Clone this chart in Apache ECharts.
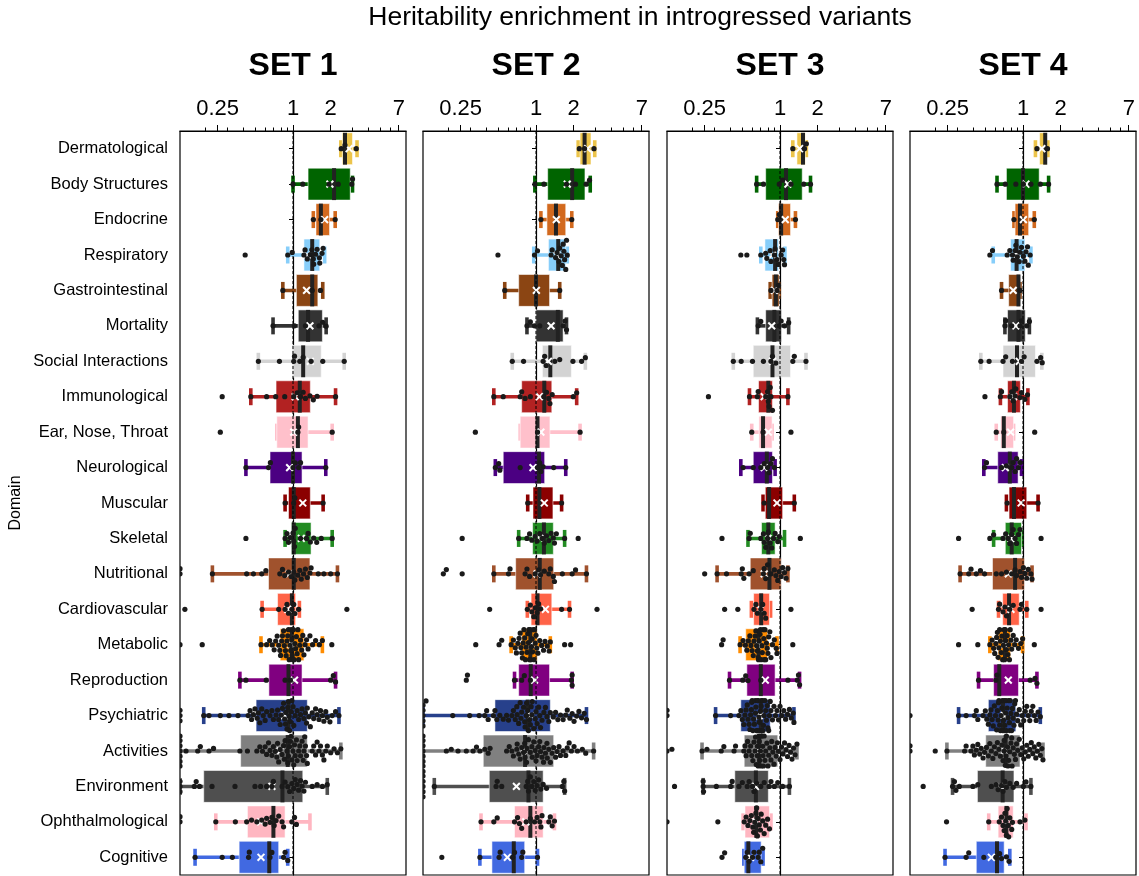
<!DOCTYPE html>
<html>
<head>
<meta charset="utf-8">
<script src="https://cdn.jsdelivr.net/npm/echarts@6/dist/echarts.min.js"></script>
<style>
  html, body { margin: 0; padding: 0; background: #fff; }
  #chart { width: 1139px; height: 876px; }
</style>
</head>
<body>
<div id="chart"></div>
<script>
// ---- data -------------------------------------------------------------
const categories = [
  'Dermatological', 'Body Structures', 'Endocrine', 'Respiratory', 'Gastrointestinal',
  'Mortality', 'Social Interactions', 'Immunological', 'Ear, Nose, Throat', 'Neurological',
  'Muscular', 'Skeletal', 'Nutritional', 'Cardiovascular', 'Metabolic', 'Reproduction',
  'Psychiatric', 'Activities', 'Environment', 'Ophthalmological', 'Cognitive'
];
const domainColors = [
  '#ecc44a', '#006400', '#d2691e', '#87cefa', '#8b4513',
  '#333333', '#d3d3d3', '#b22222', '#ffc0cb', '#4b0082',
  '#8b0000', '#228b22', '#a0522d', '#ff6347', '#ff8c00', '#800080',
  '#27408b', '#808080', '#4f4f4f', '#ffb6c1', '#4169e1'
];
const setNames = ['SET 1', 'SET 2', 'SET 3', 'SET 4'];
const majorTickLabels = [0.25, 1, 2, 7];
const minorTickValues = [0.2, 0.3, 0.4, 0.5, 0.6, 0.7, 0.8, 0.9, 3, 4, 5, 6];

// log2 enrichment. Box rows: [lower whisker, Q1, median, Q3, upper whisker, mean]
const set1Boxes = [
  [1.27, 1.31, 1.38, 1.58, 1.70, 1.49], [0.0, 0.40, 1.09, 1.52, 1.58, 0.98],
  [0.54, 0.61, 0.74, 0.97, 1.12, 0.84], [-0.14, 0.29, 0.51, 0.71, 0.84, 0.38],
  [-0.27, 0.09, 0.51, 0.66, 0.79, 0.36], [-0.53, 0.14, 0.40, 0.78, 0.88, 0.45],
  [-0.92, 0.0, 0.27, 0.75, 1.36, 0.46], [-1.12, -0.45, 0.18, 0.46, 1.13, 0.06],
  [-0.43, -0.43, 0.13, 0.40, 1.04, 0.02], [-1.25, -0.61, 0.0, 0.24, 0.87, -0.09],
  [-0.21, -0.12, 0.02, 0.46, 0.80, 0.26], [-0.21, -0.04, 0.02, 0.48, 1.04, 0.22],
  [-2.14, -0.65, 0.02, 0.45, 1.18, -0.10], [-0.82, -0.41, -0.03, 0.07, 0.17, -0.14],
  [-0.85, -0.34, -0.03, 0.29, 0.78, -0.05], [-1.41, -0.64, -0.12, 0.24, 1.13, 0.04],
  [-2.37, -0.98, -0.12, 0.38, 1.22, -0.23], [-3.0, -1.39, -0.14, 0.38, 1.27, -0.34],
  [-3.0, -2.37, -0.28, 0.26, 0.91, -0.56], [-2.05, -1.21, -0.52, -0.21, 0.45, -0.86],
  [-2.60, -1.43, -0.63, -0.38, -0.14, -0.85]
];
const set1Points = [
  [1.28, 1.38, 1.68],
  [0.0, 0.26, 0.96, 1.2, 1.56, 1.58],
  [0.54, 0.74, 1.12],
  [-1.27, -0.14, -0.02, 0.29, 0.32, 0.38, 0.46, 0.5, 0.54, 0.55, 0.6, 0.64, 0.7, 0.71, 0.77, 0.8],
  [-0.27, 0.51, 0.73],
  [-0.53, 0.04, 0.33, 0.69, 0.79, 0.88],
  [-0.92, -0.36, 0.02, 0.04, 0.18, 0.27, 0.48, 0.79, 1.36],
  [-1.88, -1.12, -0.7, -0.46, -0.22, 0.02, 0.11, 0.2, 0.27, 0.33, 0.45, 0.54, 0.64, 1.13],
  [-1.93, 0.13, 0.15, 1.04],
  [-1.25, -0.65, -0.6, 0.0, 0.06, 0.15, 0.2, 0.87],
  [-0.21, 0.02, 0.05, 0.8],
  [-1.25, -0.21, -0.16, -0.12, -0.07, 0.0, 0.02, 0.04, 0.06, 0.2, 0.36, 0.4, 0.46, 0.55, 0.63, 0.75, 1.04],
  [-3.0, -3.0, -2.14, -1.23, -1.05, -0.83, -0.72, -0.35, -0.28, -0.22, -0.12, -0.05, 0.02, 0.05, 0.13, 0.18, 0.22, 0.28, 0.33, 0.38, 0.45, 0.48, 0.67, 0.82, 1.0, 1.18],
  [-2.87, -0.82, -0.38, -0.21, -0.16, -0.12, -0.03, 0.02, 0.05, 0.15, 1.43],
  [-3.0, -2.41, -0.85, -0.7, -0.62, -0.55, -0.5, -0.46, -0.42, -0.38, -0.35, -0.33, -0.3, -0.28, -0.25, -0.23, -0.2, -0.18, -0.16, -0.14, -0.12, -0.1, -0.08, -0.06, -0.05, -0.03, -0.02, 0.0, 0.01, 0.03, 0.05, 0.07, 0.09, 0.11, 0.13, 0.15, 0.18, 0.2, 0.23, 0.26, 0.29, 0.32, 0.36, 0.4, 0.45, 0.52, 0.6, 0.7, 0.78, 1.03],
  [-1.41, -1.25, -0.71, -0.21, -0.07, 1.0, 1.07, 1.13],
  [-3.0, -3.0, -3.0, -2.37, -2.23, -1.93, -1.7, -1.46, -1.19, -1.14, -1.1, -1.05, -1.01, -0.95, -0.92, -0.88, -0.83, -0.79, -0.74, -0.7, -0.61, -0.56, -0.52, -0.45, -0.41, -0.38, -0.34, -0.31, -0.28, -0.25, -0.22, -0.2, -0.19, -0.16, -0.14, -0.12, -0.1, -0.09, -0.07, -0.05, -0.03, 0.0, 0.02, 0.06, 0.11, 0.15, 0.2, 0.24, 0.29, 0.33, 0.36, 0.38, 0.42, 0.46, 0.51, 0.55, 0.6, 0.64, 0.69, 0.73, 0.78, 0.82, 0.87, 0.91, 0.98, 1.04, 1.13, 1.22],
  [-3.0, -3.0, -3.0, -3.0, -3.0, -3.0, -3.0, -2.84, -2.53, -2.46, -2.23, -2.11, -1.41, -1.21, -0.96, -0.88, -0.81, -0.74, -0.7, -0.65, -0.61, -0.56, -0.52, -0.47, -0.43, -0.41, -0.38, -0.34, -0.29, -0.25, -0.23, -0.21, -0.16, -0.14, -0.12, -0.09, -0.07, -0.05, -0.03, 0.0, 0.02, 0.04, 0.06, 0.09, 0.11, 0.15, 0.18, 0.2, 0.24, 0.27, 0.29, 0.31, 0.33, 0.36, 0.38, 0.51, 0.55, 0.6, 0.64, 0.69, 0.73, 0.78, 0.82, 0.87, 0.91, 1.0, 1.09, 1.18, 1.27],
  [-3.0, -3.0, -3.0, -2.62, -2.57, -2.48, -2.15, -1.54, -1.01, -0.86, -0.7, -0.56, -0.52, -0.29, -0.21, -0.14, -0.09, -0.03, 0.02, 0.06, 0.11, 0.15, 0.2, 0.24, 0.29, 0.33, 0.51, 0.64, 0.78, 0.91],
  [-3.0, -3.0, -2.05, -1.53, -1.23, -1.1, -0.96, -0.83, -0.74, -0.7, -0.61, -0.56, -0.5, -0.45, -0.38, -0.29, -0.25, -0.03, 0.04, 0.09],
  [-2.6, -1.88, -1.61, -1.18, -1.16, -0.61, -0.56, -0.25, -0.21, -0.14]
];

const set2Boxes = [
  [1.12, 1.17, 1.29, 1.46, 1.56, 1.37], [-0.03, 0.31, 0.96, 1.30, 1.44, 0.83],
  [0.13, 0.29, 0.53, 0.79, 0.95, 0.54], [-0.06, 0.33, 0.59, 0.79, 0.83, 0.55],
  [-0.83, -0.46, 0.0, 0.36, 0.63, 0.01], [-0.24, 0.0, 0.58, 0.72, 0.81, 0.40],
  [-0.63, 0.17, 0.38, 0.94, 1.31, 0.33], [-1.12, -0.38, 0.22, 0.42, 1.08, 0.09],
  [-0.42, -0.42, 0.04, 0.37, 1.17, 0.13], [-1.08, -0.87, 0.08, 0.23, 0.79, -0.08],
  [-0.22, -0.08, 0.09, 0.45, 0.68, 0.22], [-0.46, -0.09, 0.21, 0.46, 0.76, 0.10],
  [-1.12, -0.54, 0.10, 0.47, 1.34, 0.03], [-0.23, -0.13, 0.04, 0.42, 0.89, 0.25],
  [-0.66, -0.38, -0.15, 0.03, 0.38, -0.12], [-0.57, -0.46, -0.14, 0.36, 0.96, -0.04],
  [-3.0, -1.09, -0.22, 0.38, 1.34, -0.12], [-3.0, -1.40, -0.29, 0.47, 1.53, -0.35],
  [-2.70, -1.24, -0.20, 0.19, 0.76, -0.52], [-1.46, -0.57, -0.15, 0.19, 0.49, -0.27],
  [-1.49, -1.17, -0.59, -0.30, 0.04, -0.76]
];
const set2Points = [
  [1.15, 1.29, 1.54],
  [-0.03, 0.21, 0.81, 1.05, 1.33, 1.42],
  [0.13, 0.95],
  [-1.01, -0.04, 0.04, 0.4, 0.43, 0.52, 0.56, 0.61, 0.63, 0.67, 0.7, 0.72, 0.74, 0.76, 0.79, 0.81, 0.83],
  [-0.83, 0.63],
  [-0.24, -0.15, -0.04, 0.1, 0.72, 0.77, 0.81],
  [-0.63, -0.33, 0.19, 0.23, 0.27, 0.5, 0.63, 0.98, 1.21, 1.31],
  [-1.12, -0.87, -0.42, -0.38, -0.29, -0.15, 0.21, 0.28, 0.34, 0.37, 0.43, 0.99, 1.08],
  [-1.61, 0.04, 1.17],
  [-1.08, -0.99, -0.96, -0.42, 0.04, 0.1, 0.13, 0.19, 0.47, 0.79],
  [-0.22, 0.68],
  [-1.96, -0.46, -0.24, -0.17, -0.11, -0.02, 0.03, 0.1, 0.16, 0.22, 0.28, 0.34, 0.4, 0.46, 0.49, 0.54, 0.76, 1.12],
  [-2.46, -2.38, -1.96, -1.12, -0.73, -0.69, -0.29, -0.24, -0.17, -0.02, 0.07, 0.12, 0.22, 0.34, 0.38, 0.46, 0.49, 0.7, 0.96, 1.05, 1.34],
  [-1.23, -0.23, -0.15, -0.11, -0.06, -0.02, 0.03, 0.07, 0.12, 0.68, 0.89, 1.62],
  [-1.6, -0.98, -0.91, -0.66, -0.6, -0.55, -0.52, -0.48, -0.45, -0.42, -0.4, -0.38, -0.36, -0.34, -0.32, -0.3, -0.28, -0.26, -0.24, -0.22, -0.2, -0.19, -0.17, -0.15, -0.14, -0.12, -0.1, -0.09, -0.07, -0.05, -0.04, -0.02, 0.0, 0.02, 0.05, 0.1, 0.15, 0.2, 0.24, 0.3, 0.35, 0.38, 0.76, 0.92],
  [-1.85, -1.82, -0.57, -0.38, -0.31, -0.15, 0.94, 0.96, 0.96],
  [-3.0, -3.0, -3.0, -3.0, -3.0, -2.92, -2.21, -1.76, -1.51, -1.36, -1.31, -1.27, -1.13, -1.09, -1.04, -0.96, -0.87, -0.78, -0.73, -0.64, -0.6, -0.55, -0.51, -0.5, -0.46, -0.42, -0.4, -0.38, -0.33, -0.3, -0.29, -0.26, -0.25, -0.22, -0.2, -0.17, -0.15, -0.13, -0.11, -0.1, -0.06, -0.02, 0.0, 0.03, 0.07, 0.1, 0.12, 0.16, 0.21, 0.25, 0.29, 0.34, 0.38, 0.46, 0.52, 0.58, 0.65, 0.72, 0.79, 0.83, 0.9, 0.96, 1.01, 1.08, 1.14, 1.21, 1.28, 1.34],
  [-3.0, -3.0, -3.0, -3.0, -3.0, -3.0, -3.0, -2.38, -2.25, -2.07, -1.85, -1.67, -1.58, -1.49, -1.36, -1.27, -1.22, -0.78, -0.71, -0.64, -0.6, -0.51, -0.5, -0.46, -0.42, -0.38, -0.33, -0.3, -0.29, -0.25, -0.24, -0.2, -0.15, -0.11, -0.1, -0.06, -0.02, 0.0, 0.03, 0.07, 0.1, 0.12, 0.16, 0.2, 0.21, 0.25, 0.29, 0.3, 0.34, 0.38, 0.43, 0.47, 0.52, 0.56, 0.61, 0.65, 0.72, 0.79, 0.83, 0.88, 0.94, 1.01, 1.1, 1.23, 1.32, 1.53],
  [-3.0, -3.0, -3.0, -3.0, -3.0, -3.0, -2.7, -1.06, -1.03, -0.91, -0.26, -0.22, -0.2, -0.15, -0.11, -0.06, -0.02, 0.03, 0.07, 0.13, 0.19, 0.28, 0.7, 0.74, 0.76],
  [-1.46, -1.12, -1.03, -0.57, -0.49, -0.44, -0.38, -0.26, -0.15, -0.04, 0.03, 0.1, 0.13, 0.16, 0.34, 0.38, 0.43, 0.49],
  [-2.5, -1.49, -0.98, -0.95, -0.62, -0.57, -0.38, -0.35, 0.04]
];

const set3Boxes = [
  [0.34, 0.45, 0.61, 0.67, 0.70, 0.52], [-0.62, -0.38, 0.16, 0.59, 0.81, 0.21],
  [-0.06, -0.04, 0.03, 0.28, 0.41, 0.14], [-0.51, -0.40, -0.13, -0.04, 0.13, -0.20],
  [-0.26, -0.21, -0.11, -0.02, -0.02, -0.15], [-0.60, -0.38, -0.15, 0.04, 0.23, -0.22],
  [-1.24, -0.71, -0.20, 0.28, 0.69, -0.20], [-0.81, -0.57, -0.31, -0.20, 0.21, -0.42],
  [-0.75, -0.56, -0.45, -0.21, -0.21, -0.31], [-1.04, -0.71, -0.35, -0.20, -0.13, -0.42],
  [-0.45, -0.39, -0.29, 0.07, 0.38, -0.08], [-0.85, -0.49, -0.31, -0.13, 0.12, -0.32],
  [-1.67, -0.79, -0.28, 0.03, 0.21, -0.42], [-0.76, -0.70, -0.50, -0.28, -0.25, -0.52],
  [-1.06, -0.91, -0.57, -0.33, -0.08, -0.58], [-1.34, -0.88, -0.51, -0.13, 0.52, -0.39],
  [-1.71, -1.04, -0.51, -0.26, 0.37, -0.55], [-2.07, -0.95, -0.55, -0.06, 0.45, -0.55],
  [-2.04, -1.20, -0.64, -0.31, 0.25, -0.65], [-0.98, -0.93, -0.63, -0.28, -0.24, -0.64],
  [-0.96, -0.95, -0.84, -0.50, -0.45, -0.78]
];
const set3Points = [
  [0.34, 0.65, 0.7],
  [-0.62, -0.44, -0.02, 0.07, 0.29, 0.63, 0.81],
  [-0.06, -0.02, 0.41],
  [-1.04, -0.88, -0.51, -0.38, -0.35, -0.26, -0.24, -0.15, -0.13, -0.08, -0.04, 0.03, 0.07, 0.1, 0.12],
  [-0.24, -0.08, -0.04],
  [-0.58, -0.51, -0.02, 0.03, 0.12, 0.23],
  [-1.24, -1.03, -0.73, -0.44, -0.24, -0.2, -0.11, 0.34, 0.38, 0.69],
  [-1.9, -0.81, -0.6, -0.58, -0.38, -0.33, -0.31, -0.29, -0.26, -0.24, -0.2, 0.21],
  [-0.75, -0.45, 0.29],
  [-0.98, -0.71, -0.51, -0.42, -0.33, -0.29, -0.24, -0.2, -0.15],
  [-0.42, 0.38],
  [-1.54, -0.82, -0.79, -0.51, -0.44, -0.42, -0.38, -0.33, -0.31, -0.26, -0.22, -0.17, -0.13, -0.06, -0.02, 0.54],
  [-2.0, -1.67, -1.42, -1.03, -1.0, -0.96, -0.82, -0.71, -0.44, -0.42, -0.38, -0.33, -0.24, -0.15, -0.11, -0.06, -0.02, 0.03, 0.07, 0.12, 0.16, 0.21],
  [-1.47, -1.12, -0.69, -0.64, -0.6, -0.51, -0.46, -0.42, -0.38, 0.29],
  [-1.55, -1.51, -1.06, -0.98, -0.92, -0.88, -0.84, -0.8, -0.77, -0.74, -0.71, -0.69, -0.66, -0.64, -0.62, -0.6, -0.58, -0.57, -0.55, -0.53, -0.52, -0.5, -0.48, -0.47, -0.45, -0.43, -0.42, -0.4, -0.38, -0.36, -0.34, -0.32, -0.3, -0.27, -0.24, -0.2, -0.15, -0.1, -0.08, 0.34],
  [-1.34, -0.99, -0.91, -0.85, -0.51, 0.21, 0.46, 0.49, 0.52],
  [-3.0, -3.0, -1.71, -1.31, -1.09, -1.04, -1.0, -0.96, -0.93, -0.9, -0.87, -0.85, -0.82, -0.8, -0.78, -0.76, -0.75, -0.74, -0.72, -0.7, -0.68, -0.66, -0.65, -0.64, -0.62, -0.6, -0.6, -0.58, -0.56, -0.55, -0.54, -0.52, -0.5, -0.5, -0.48, -0.46, -0.45, -0.44, -0.42, -0.4, -0.38, -0.36, -0.34, -0.32, -0.3, -0.28, -0.26, -0.24, -0.2, -0.16, -0.12, -0.08, -0.04, 0.0, 0.05, 0.1, 0.15, 0.2, 0.25, 0.3, 0.35, 0.37],
  [-3.0, -2.87, -2.07, -1.94, -1.56, -1.49, -1.22, -1.18, -0.96, -0.93, -0.9, -0.86, -0.82, -0.78, -0.75, -0.72, -0.69, -0.66, -0.65, -0.63, -0.6, -0.6, -0.58, -0.56, -0.55, -0.54, -0.52, -0.5, -0.5, -0.48, -0.46, -0.45, -0.44, -0.42, -0.4, -0.38, -0.35, -0.32, -0.3, -0.27, -0.24, -0.22, -0.19, -0.16, -0.13, -0.1, -0.07, -0.04, 0.0, 0.04, 0.08, 0.12, 0.16, 0.2, 0.24, 0.28, 0.32, 0.36, 0.4, 0.45],
  [-2.8, -2.04, -2.04, -2.03, -1.69, -1.31, -1.27, -1.09, -1.0, -0.87, -0.82, -0.73, -0.69, -0.62, -0.51, -0.42, -0.29, -0.24, -0.15, -0.06, 0.07, 0.25],
  [-3.0, -1.65, -0.95, -0.9, -0.85, -0.8, -0.76, -0.72, -0.7, -0.67, -0.64, -0.62, -0.6, -0.58, -0.55, -0.52, -0.5, -0.46, -0.42, -0.38, -0.33, -0.28],
  [-1.54, -1.47, -0.91, -0.87, -0.82, -0.73, -0.69, -0.58, -0.55, -0.51, -0.46]
];

const set4Boxes = [
  [0.33, 0.44, 0.59, 0.63, 0.66, 0.50], [-0.69, -0.44, 0.0, 0.43, 0.68, 0.08],
  [-0.24, -0.21, -0.08, 0.15, 0.30, 0.01], [-0.79, -0.33, -0.17, 0.05, 0.21, -0.15],
  [-0.57, -0.38, -0.12, -0.08, -0.08, -0.26], [-0.48, -0.41, -0.12, 0.06, 0.17, -0.19],
  [-1.12, -0.53, -0.16, 0.33, 0.50, -0.10], [-0.60, -0.41, -0.24, -0.07, 0.13, -0.25],
  [-0.71, -0.59, -0.51, -0.25, -0.25, -0.33], [-1.04, -0.67, -0.35, -0.13, -0.04, -0.47],
  [-0.44, -0.37, -0.24, 0.10, 0.40, -0.05], [-0.78, -0.47, -0.30, -0.04, -0.04, -0.32],
  [-1.67, -0.81, -0.21, 0.04, 0.24, -0.39], [-0.65, -0.54, -0.37, -0.10, 0.10, -0.32],
  [-0.88, -0.66, -0.48, -0.33, -0.01, -0.50], [-1.18, -0.78, -0.63, -0.12, 0.37, -0.39],
  [-1.71, -0.92, -0.53, -0.19, 0.46, -0.50], [-2.02, -0.99, -0.46, -0.08, 0.53, -0.50],
  [-1.87, -1.21, -0.54, -0.24, 0.21, -0.60], [-0.91, -0.66, -0.44, -0.26, 0.08, -0.45],
  [-2.07, -1.24, -0.69, -0.50, -0.35, -0.84]
];
const set4Points = [
  [0.37, 0.65],
  [-0.69, -0.47, -0.19, 0.01, 0.21, 0.46, 0.68],
  [-0.24, 0.3],
  [-0.88, -0.81, -0.42, -0.35, -0.28, -0.26, -0.21, -0.19, -0.15, -0.1, -0.08, -0.04, 0.01, 0.05, 0.08, 0.12, 0.14, 0.19],
  [-0.57, -0.08],
  [-0.48, -0.46, -0.3, -0.08, -0.04, 0.1, 0.17],
  [-1.12, -0.9, -0.53, -0.46, -0.28, -0.04, 0.03, 0.37, 0.47, 0.51],
  [-1.01, -0.6, -0.57, -0.35, -0.3, -0.26, -0.21, -0.19, -0.08, -0.04, 0.05, 0.12],
  [-0.71, -0.51, 0.31],
  [-1.02, -0.97, -0.57, -0.44, -0.3, -0.26, -0.21, -0.17, -0.12, -0.08],
  [-0.42, 0.4],
  [-1.71, -0.88, -0.78, -0.53, -0.46, -0.39, -0.35, -0.3, -0.26, -0.21, -0.17, -0.12, -0.08, 0.48],
  [-1.67, -1.44, -1.38, -1.24, -1.13, -1.02, -0.71, -0.57, -0.44, -0.3, -0.21, -0.17, -0.08, -0.04, 0.01, 0.05, 0.1, 0.14, 0.21, 0.24],
  [-1.35, -0.65, -0.62, -0.53, -0.48, -0.44, -0.35, -0.26, -0.08, -0.04, 0.1, 0.48],
  [-1.71, -1.2, -0.88, -0.82, -0.78, -0.75, -0.72, -0.7, -0.68, -0.66, -0.64, -0.62, -0.6, -0.58, -0.56, -0.54, -0.52, -0.5, -0.49, -0.47, -0.46, -0.44, -0.42, -0.4, -0.38, -0.36, -0.34, -0.32, -0.3, -0.26, -0.22, -0.18, -0.12, -0.06, -0.01, 0.3],
  [-1.18, -0.72, -0.69, 0.19, 0.32, 0.37],
  [-3.0, -1.71, -1.51, -1.29, -1.24, -1.2, -1.06, -1.0, -0.96, -0.92, -0.88, -0.85, -0.82, -0.79, -0.76, -0.73, -0.7, -0.68, -0.66, -0.65, -0.64, -0.62, -0.6, -0.58, -0.56, -0.55, -0.54, -0.52, -0.5, -0.5, -0.48, -0.46, -0.45, -0.44, -0.42, -0.4, -0.38, -0.36, -0.35, -0.34, -0.32, -0.3, -0.28, -0.26, -0.24, -0.22, -0.2, -0.17, -0.14, -0.1, -0.06, -0.02, 0.02, 0.06, 0.1, 0.14, 0.18, 0.22, 0.26, 0.3, 0.35, 0.4, 0.46],
  [-3.0, -3.0, -2.33, -2.02, -1.55, -1.51, -1.38, -1.33, -1.29, -1.24, -1.2, -1.15, -1.11, -1.06, -1.02, -0.97, -0.92, -0.88, -0.84, -0.8, -0.76, -0.72, -0.68, -0.64, -0.6, -0.56, -0.53, -0.5, -0.5, -0.47, -0.45, -0.44, -0.41, -0.4, -0.38, -0.35, -0.32, -0.3, -0.29, -0.26, -0.23, -0.2, -0.17, -0.14, -0.1, -0.06, -0.02, 0.02, 0.06, 0.1, 0.14, 0.18, 0.22, 0.26, 0.3, 0.34, 0.38, 0.42, 0.46, 0.5, 0.53],
  [-2.65, -1.87, -1.82, -1.78, -1.69, -1.33, -1.2, -0.84, -0.71, -0.66, -0.57, -0.53, -0.48, -0.44, -0.35, -0.26, -0.17, 0.01, 0.08, 0.21],
  [-2.03, -0.91, -0.63, -0.57, -0.53, -0.5, -0.48, -0.46, -0.44, -0.42, -0.39, -0.38, -0.35, -0.3, -0.28, -0.08, 0.05],
  [-2.07, -1.51, -1.44, -1.04, -0.72, -0.62, -0.57, -0.44, -0.37]
];

const setBoxes = [set1Boxes, set2Boxes, set3Boxes, set4Boxes];
const setPoints = [set1Points, set2Points, set3Points, set4Points];

// ---- layout -----------------------------------------------------------
const FONT = '"Liberation Sans", Arial, sans-serif';
const gridLeft = [180, 423, 667, 910];
const gridWidth = 226;
const gridTop = 131;
const gridHeight = 744;
const xMin = -3, xMax = 3;          // log2 range: 0.125 .. 8
const dotDiameter = 5.2;
const swarmHalfWidth = 15;

// Beeswarm offsets (px) for one category: each point takes the
// nearest free slot to the centre line without overlapping others.
function swarmOffsets(values, pxPerUnit) {
  const order = values.map((v, i) => i).sort((a, b) => values[a] - values[b]);
  const placed = [];
  const out = new Array(values.length);
  const d2 = dotDiameter * dotDiameter;
  for (const i of order) {
    const x = values[i] * pxPerUnit;
    const near = placed.filter(p => Math.abs(p.x - x) < dotDiameter);
    const cands = [0];
    near.forEach(p => {
      const dy = Math.sqrt(Math.max(0, d2 - (p.x - x) * (p.x - x)));
      cands.push(p.y + dy, p.y - dy);
    });
    cands.sort((a, b) => Math.abs(a) - Math.abs(b) || a - b);
    let y = null;
    for (const c of cands) {
      if (near.every(p => (p.x - x) ** 2 + (p.y - c) ** 2 >= d2 - 1e-6)) { y = c; break; }
    }
    if (y === null) y = 0;
    if (Math.abs(y) > swarmHalfWidth) y = Math.sign(y) * swarmHalfWidth;
    placed.push({ x, y });
    out[i] = y;
  }
  return out;
}

function renderBox(params, api) {
  const cat = api.value(0);
  const pt = k => api.coord([api.value(k), cat]);
  const lo = pt(1), q1 = pt(2), md = pt(3), q3 = pt(4), hi = pt(5), mn = pt(6);
  const band = api.size([0, 1])[1];
  const cy = lo[1];
  const boxH = band * 0.9, capH = band * 0.48, lw = 3.6, capW = 3.6;
  const color = domainColors[cat];
  const m = 3.4;
  return {
    type: 'group',
    children: [
      { type: 'line', shape: { x1: lo[0], y1: cy, x2: hi[0], y2: cy }, style: { stroke: color, lineWidth: lw } },
      { type: 'rect', shape: { x: lo[0] - capW / 2, y: cy - capH / 2, width: capW, height: capH }, style: { fill: color } },
      { type: 'rect', shape: { x: hi[0] - capW / 2, y: cy - capH / 2, width: capW, height: capH }, style: { fill: color } },
      { type: 'rect', shape: { x: q1[0], y: cy - boxH / 2, width: q3[0] - q1[0], height: boxH },
        style: { fill: color, stroke: 'rgba(255,255,255,0.55)', lineWidth: 1 } },
      { type: 'rect', shape: { x: md[0] - 2, y: cy - boxH / 2, width: 4, height: boxH }, style: { fill: '#222222' } },
      { type: 'line', shape: { x1: mn[0] - m, y1: cy - m, x2: mn[0] + m, y2: cy + m }, style: { stroke: '#ffffff', lineWidth: 2 } },
      { type: 'line', shape: { x1: mn[0] - m, y1: cy + m, x2: mn[0] + m, y2: cy - m }, style: { stroke: '#ffffff', lineWidth: 2 } }
    ]
  };
}

function renderDot(params, api) {
  const c = api.coord([api.value(0), api.value(1)]);
  return {
    type: 'circle',
    shape: { cx: c[0], cy: c[1] + api.value(2), r: dotDiameter / 2 },
    style: { fill: '#1a1a1a' }
  };
}

function renderRefLine(params, api) {
  const cs = params.coordSys;
  const x = api.coord([api.value(0), 0])[0];
  return {
    type: 'line',
    shape: { x1: x, y1: cs.y, x2: x, y2: cs.y + cs.height },
    style: { stroke: '#000', lineWidth: 1, lineDash: [3, 2] }
  };
}

const fmtTick = v => {
  const raw = Math.pow(2, v);
  return String(Math.round(raw * 100) / 100);
};

const grids = [], xAxes = [], yAxes = [], series = [], graphics = [];
const pxPerUnit = gridWidth / (xMax - xMin);

setNames.forEach((name, g) => {
  grids.push({ left: gridLeft[g], top: gridTop, width: gridWidth, height: gridHeight,
    show: true, borderColor: '#000', borderWidth: 1.2, backgroundColor: 'transparent' });

  xAxes.push({
    gridIndex: g, type: 'value', position: 'top', min: xMin, max: xMax,
    axisLine: { show: true, lineStyle: { color: '#000', width: 1.2 } },
    axisTick: { show: true, length: 6, customValues: majorTickLabels.map(Math.log2), lineStyle: { color: '#000', width: 1 } },
    axisLabel: { show: true, customValues: majorTickLabels.map(Math.log2), formatter: fmtTick,
      fontSize: 22, color: '#000', fontFamily: FONT, margin: 11 },
    splitLine: { show: false }
  });
  xAxes.push({
    gridIndex: g, type: 'value', position: 'top', min: xMin, max: xMax,
    axisLine: { show: false },
    axisTick: { show: true, length: 3.5, customValues: minorTickValues.map(Math.log2), lineStyle: { color: '#000', width: 1 } },
    axisLabel: { show: false },
    splitLine: { show: false }
  });
  yAxes.push({
    gridIndex: g, type: 'category', data: categories, inverse: true,
    axisLine: { show: true, lineStyle: { color: '#000', width: 1.2 } },
    axisTick: { show: true, alignWithLabel: true, length: 4, lineStyle: { color: '#000' } },
    axisLabel: { show: g === 0, fontSize: 16.5, color: '#000', fontFamily: FONT, margin: 12 },
    splitLine: { show: false }
  });

  const boxes = setBoxes[g];
  series.push({
    type: 'custom', xAxisIndex: 2 * g, yAxisIndex: g, clip: true, z: 2,
    renderItem: renderBox,
    encode: { x: [1, 2, 3, 4, 5, 6], y: 0 },
    data: boxes.map((b, i) => [i].concat(b))
  });
  series.push({
    type: 'custom', xAxisIndex: 2 * g, yAxisIndex: g, clip: true, z: 3,
    renderItem: renderRefLine, encode: { x: 0, y: 1 },
    data: [[0, 0]]
  });
  const dots = [];
  setPoints[g].forEach((vals, i) => {
    const offs = swarmOffsets(vals, pxPerUnit);
    vals.forEach((v, k) => dots.push([v, i, offs[k]]));
  });
  series.push({
    type: 'custom', xAxisIndex: 2 * g, yAxisIndex: g, clip: true, z: 4,
    renderItem: renderDot, encode: { x: 0, y: 1 },
    data: dots
  });

  graphics.push({
    type: 'text', x: gridLeft[g] + gridWidth / 2, y: 66,
    style: { text: name, font: 'bold 32px ' + FONT, fill: '#000', textAlign: 'center', textVerticalAlign: 'middle' }
  });
});

graphics.push({
  type: 'text', x: 640, y: 18,
  style: { text: 'Heritability enrichment in introgressed variants', font: '26.5px ' + FONT,
    fill: '#000', textAlign: 'center', textVerticalAlign: 'middle' }
});
graphics.push({
  type: 'text', x: 16, y: 503, rotation: Math.PI / 2,
  style: { text: 'Domain', font: '16px ' + FONT, fill: '#000', textAlign: 'center', textVerticalAlign: 'middle' }
});

const chart = echarts.init(document.getElementById('chart'), null, { renderer: 'canvas' });
chart.setOption({
  animation: false,
  backgroundColor: '#fff',
  textStyle: { fontFamily: FONT },
  grid: grids,
  xAxis: xAxes,
  yAxis: yAxes,
  series: series,
  graphic: graphics
});
</script>
</body>
</html>
